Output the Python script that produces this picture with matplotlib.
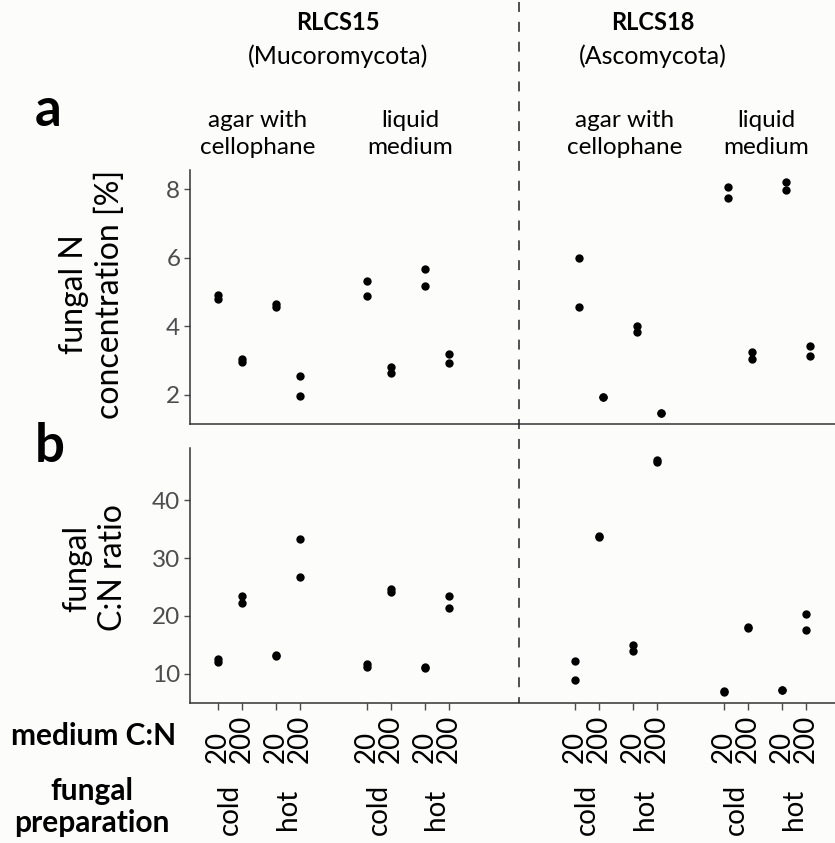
import matplotlib
matplotlib.use("Agg")
import matplotlib.pyplot as plt
from matplotlib.lines import Line2D
from matplotlib.transforms import blended_transform_factory

plt.rcParams['font.family'] = ['Lato', 'DejaVu Sans']

# ---------------- data ----------------
strains = ["RLCS15", "RLCS18"]
phyla = ["(Mucoromycota)", "(Ascomycota)"]
media = ["agar with\ncellophane", "liquid\nmedium"]
preparations = ["cold", "hot"]
medium_cn = ["20", "200"]

# two replicates per group; order: strain > medium > preparation > medium C:N
n_conc = [
    # RLCS15 agar
    [4.90, 4.80], [3.05, 2.95], [4.65, 4.57], [2.54, 1.97],
    # RLCS15 liquid
    [5.31, 4.89], [2.81, 2.64], [5.66, 5.18], [3.19, 2.93],
    # RLCS18 agar
    [6.00, 4.55], [1.95, 1.93], [4.00, 3.82], [1.47, 1.46],
    # RLCS18 liquid
    [8.05, 7.74], [3.24, 3.04], [8.22, 7.99], [3.44, 3.14],
]
cn_ratio = [
    # RLCS15 agar
    [12.6, 12.0], [23.4, 22.2], [13.2, 13.0], [33.3, 26.7],
    # RLCS15 liquid
    [11.6, 11.2], [24.6, 24.2], [11.1, 10.9], [23.4, 21.3],
    # RLCS18 agar
    [12.2, 8.8], [33.9, 33.6], [15.0, 13.9], [47.1, 46.6],
    # RLCS18 liquid
    [7.0, 6.8], [18.1, 17.9], [7.2, 7.1], [20.3, 17.5],
]

# ---------------- layout (pixel units) ----------------
W, H = 835, 843
X0 = 218.0
STRAIN_GAP, MEDIUM_GAP, PREP_GAP, CN_GAP = 357.0, 148.5, 58.0, 24.0
PANEL_A_SHIFT_R = 4.0   # small rightward offset of panel a dots for second strain

positions, group_keys = [], []
for s in range(2):
    for m in range(2):
        for p in range(2):
            for c in range(2):
                positions.append(X0 + s * STRAIN_GAP + m * MEDIUM_GAP + p * PREP_GAP + c * CN_GAP)
                group_keys.append((s, m, p, c))

BG = '#fcfcfa'
fig = plt.figure(figsize=(W / 100, H / 100), dpi=100, facecolor=BG)

def rect(left, top, right, bottom):
    return [left / W, 1 - bottom / H, (right - left) / W, (bottom - top) / H]

ax_a = fig.add_axes(rect(190, 170, 835, 424))
ax_b = fig.add_axes(rect(190, 448, 835, 703))

spine_col = '#333333'
tick_col = '#4d4d4d'
DOT = 36
for ax in (ax_a, ax_b):
    ax.set_facecolor(BG)
    ax.set_xlim(190, 835)
    for side in ('top', 'right'):
        ax.spines[side].set_visible(False)
    for side in ('left', 'bottom'):
        ax.spines[side].set_color(spine_col)
        ax.spines[side].set_linewidth(1.1)
    ax.tick_params(axis='y', colors=tick_col, labelsize=17.5, length=4, width=1, pad=3)

# panel a
for i, (x, vals) in enumerate(zip(positions, n_conc)):
    dx = PANEL_A_SHIFT_R if group_keys[i][0] == 1 else 0.0
    ax_a.scatter([x + dx] * len(vals), vals, s=DOT, color='black', zorder=3, linewidths=0)
ax_a.set_ylim(1.15, 8.56)
ax_a.set_yticks([2, 4, 6, 8])
ax_a.set_xticks([])

# panel b
for x, vals in zip(positions, cn_ratio):
    ax_b.scatter([x] * len(vals), vals, s=DOT, color='black', zorder=3, linewidths=0)
ax_b.set_ylim(4.9, 49.1)
ax_b.set_yticks([10, 20, 30, 40])
ax_b.set_xticks(positions)
ax_b.set_xticklabels([])
ax_b.tick_params(axis='x', colors=tick_col, length=5, width=1)

def fx(px):
    return px / W

def fy(py):
    return 1 - py / H

# x labels: medium C:N and fungal preparation
tb = blended_transform_factory(ax_b.transData, fig.transFigure)
for x, key in zip(positions, group_keys):
    ax_b.text(x, fy(763), medium_cn[key[3]], transform=tb, rotation=90,
              ha='center', va='bottom', fontsize=20, color='black')
for s in range(2):
    for m in range(2):
        for p in range(2):
            idx = [i for i, k in enumerate(group_keys) if k[:3] == (s, m, p)]
            xc = sum(positions[i] for i in idx) / len(idx)
            ax_b.text(xc, fy(809), preparations[p], transform=tb, rotation=90,
                      ha='center', va='center', fontsize=20, color='black')

fig.text(fx(94), fy(736), "medium C:N", ha='center', va='center',
         fontsize=21.5, fontweight='bold')
fig.text(fx(92), fy(807), "fungal\npreparation", ha='center', va='center',
         fontsize=21.5, fontweight='bold', linespacing=1.2)

# y labels
fig.text(fx(92), fy(294), "fungal N\nconcentration [%]", rotation=90, ha='center',
         va='center', fontsize=23, linespacing=1.25)
fig.text(fx(95), fy(568), "fungal\nC:N ratio", rotation=90, ha='center',
         va='center', fontsize=23, linespacing=1.25)

# panel letters
fig.text(fx(35), fy(126), "a", fontsize=38, fontweight='bold', ha='left', va='baseline')
fig.text(fx(35), fy(462), "b", fontsize=38, fontweight='bold', ha='left', va='baseline')

# strain headers
strain_centers = [338, 653]
for s in range(2):
    fig.text(fx(strain_centers[s]), fy(30), strains[s], ha='center', va='baseline',
             fontsize=17, fontweight='bold')
    fig.text(fx(strain_centers[s]), fy(56), phyla[s], ha='center', va='center',
             fontsize=18)

# medium headers
medium_centers = [[258, 410], [625, 766]]
for s in range(2):
    for m in range(2):
        fig.text(fx(medium_centers[s][m]), fy(134), media[m], ha='center', va='center',
                 fontsize=17.5, linespacing=1.35)

# dashed separator
fig.add_artist(Line2D([fx(519), fx(519)], [fy(2), fy(703)], transform=fig.transFigure,
                      color='#222222', lw=1.1, linestyle=(0, (6.5, 6.5))))

fig.savefig("out.png", dpi=100, facecolor=BG)
